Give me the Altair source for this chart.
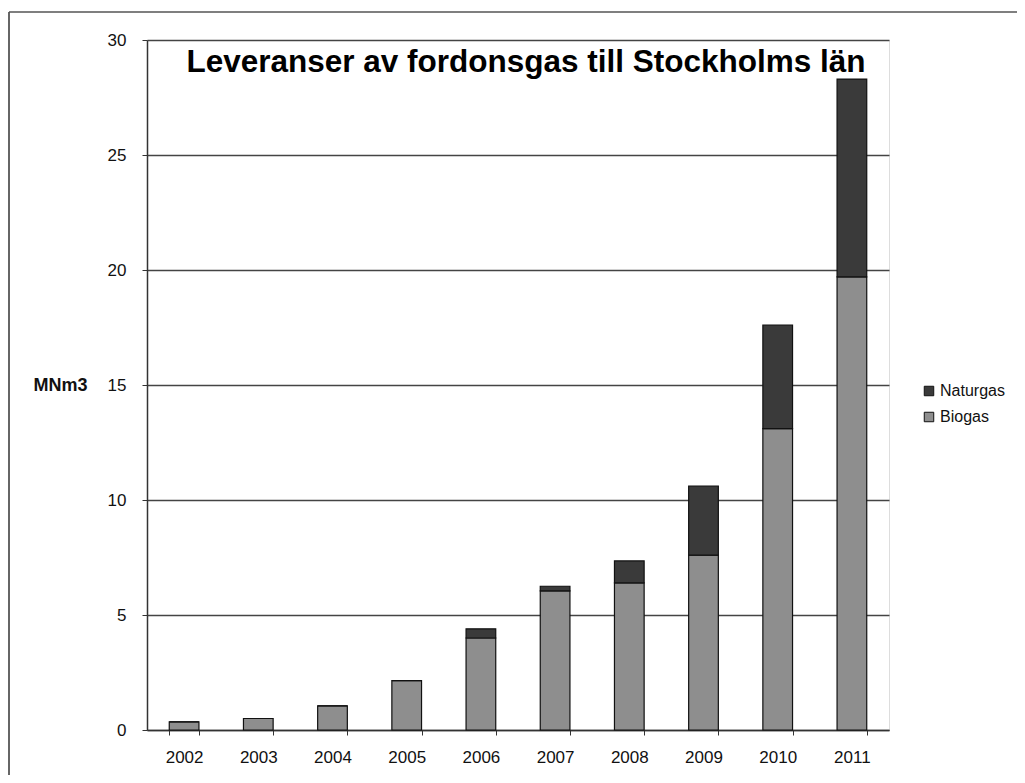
import altair as alt
import pandas as pd

years = ["2002", "2003", "2004", "2005", "2006", "2007", "2008", "2009", "2010", "2011"]
biogas = [0.35, 0.5, 1.05, 2.15, 4.0, 6.05, 6.4, 7.6, 13.1, 19.7]
naturgas = [0.0, 0.0, 0.0, 0.0, 0.4, 0.2, 0.95, 3.0, 4.5, 8.6]
series = ["Naturgas", "Biogas"]
colors = ["#3a3a3a", "#8e8e8e"]
y_ticks = [0, 5, 10, 15, 20, 25, 30]
title_text = "Leveranser av fordonsgas till Stockholms län"
y_title = "MNm3"

rows = []
for yr, b, n in zip(years, biogas, naturgas):
    rows.append({"year": yr, "serie": "Biogas", "value": b, "ord": 0})
    rows.append({"year": yr, "serie": "Naturgas", "value": n, "ord": 1})
df = pd.DataFrame(rows)

FONT = "Liberation Sans, sans-serif"

bars = alt.Chart(df).mark_bar(stroke="#111", strokeWidth=1.2).encode(
    x=alt.X("year:N", sort=years,
            scale=alt.Scale(paddingInner=0.6, paddingOuter=0.3),
            axis=alt.Axis(title=None, labelAngle=0, tickBand="extent",
                          labelFontSize=17, labelFont=FONT, labelColor="#111",
                          labelPadding=14, tickSize=5, tickColor="#333",
                          domainColor="#333", domainWidth=1.5, grid=False)),
    y=alt.Y("value:Q", stack="zero",
            scale=alt.Scale(domain=[0, 30], nice=False),
            axis=alt.Axis(values=y_ticks, title=y_title, titleAngle=0,
                          titleX=-114, titleY=345, titleAlign="left",
                          titleBaseline="middle", titleFont=FONT,
                          titleFontSize=18, titleFontWeight="bold",
                          titleColor="#111",
                          labelFontSize=17, labelFont=FONT, labelColor="#111",
                          labelPadding=16, tickSize=5, tickColor="#333",
                          domainColor="#333", domainWidth=1.5,
                          grid=True, gridColor="#444", gridWidth=1.3)),
    color=alt.Color("serie:N",
                    scale=alt.Scale(domain=series, range=colors),
                    legend=alt.Legend(title=None, orient="none",
                                      legendX=774, legendY=343,
                                      symbolType="square", symbolSize=90,
                                      symbolStrokeColor="#111",
                                      symbolStrokeWidth=1,
                                      labelFont=FONT, labelFontSize=16,
                                      labelColor="#111", rowPadding=10,
                                      labelOffset=3)),
    order=alt.Order("ord:Q"),
)

title = alt.Chart(pd.DataFrame({"t": [title_text]})).mark_text(
    font=FONT, fontSize=31.5, fontWeight="bold", color="#000",
    align="center", baseline="alphabetic"
).encode(text="t:N", x=alt.value(379), y=alt.value(32))

left_border = alt.Chart(pd.DataFrame({"a": [0]})).mark_rule(
    color="#333", strokeWidth=1.5).encode(
    x=alt.value(-138), y=alt.value(-28), y2=alt.value(760))
top_border = alt.Chart(pd.DataFrame({"a": [0]})).mark_rule(
    color="#555", strokeWidth=1.5).encode(
    x=alt.value(-138), x2=alt.value(870), y=alt.value(-28))

chart = alt.layer(bars, title, left_border, top_border).properties(
    width=742, height=690,
    autosize=alt.AutoSizeParams(type="none"),
    padding={"left": 139, "top": 32, "right": 128, "bottom": 45},
).configure_view(stroke=None).configure(background="white")

chart.save("out.html", embed_options={"renderer": "svg", "actions": False})
